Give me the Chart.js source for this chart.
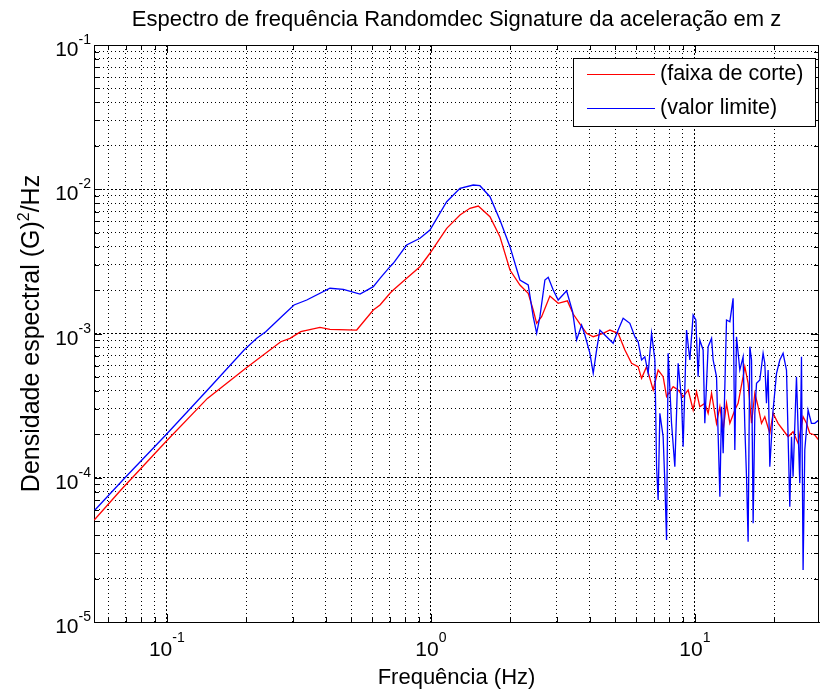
<!DOCTYPE html>
<html lang="pt">
<head>
    <meta charset="UTF-8">
    <title>Espectro de frequência Randomdec Signature</title>
    <script src="https://cdn.jsdelivr.net/npm/chart.js"></script>
    <style>
        body {
            margin: 0;
            background-color: #fff;
        }

        #wrap {
            width: 820px;
            height: 694px;
        }
    </style>
</head>
<body>

    <div id="wrap">
        <canvas id="espectro" width="820" height="694"></canvas>
    </div>

    <script>
        // Valores (frequência em Hz, densidade em G^2/Hz)
        const freqCorte = [0.0531, 0.0670, 0.0991, 0.1425, 0.1991, 0.2701, 0.2929, 0.3215, 0.3803, 0.4149,
            0.5238, 0.6053, 0.6418, 0.7002, 0.7206, 0.8097, 0.9094, 0.992, 1.148, 1.289,
            1.406, 1.512, 1.674, 1.826, 1.993, 2.174, 2.337, 2.441, 2.515, 2.627,
            2.823, 3.035, 3.289, 3.459, 3.667, 3.888, 4.119, 4.492, 4.763, 5.120,
            5.429, 5.754, 6.095, 6.279, 6.558, 6.947, 7.256, 7.579, 7.807, 8.271,
            8.638, 9.022, 9.426, 9.844, 10.14, 10.43, 10.90, 11.22, 11.56, 12.07,
            12.43, 12.79, 13.17, 13.56, 14.16, 14.57, 15.22, 15.45, 15.90, 16.38,
            16.86, 17.35, 17.87, 18.39, 19.21, 19.77, 20.65, 21.57, 22.53, 23.53,
            24.59, 25.68, 26.45, 27.22, 28.43, 29.44];
        const psdCorte = [5.09e-5, 8.23e-5, 1.778e-4, 3.55e-4, 5.74e-4, 8.77e-4, 9.26e-4, 1.029e-3, 1.104e-3, 1.069e-3,
            1.057e-3, 1.455e-3, 1.576e-3, 1.900e-3, 2.003e-3, 2.413e-3, 2.905e-3, 3.60e-3, 5.36e-3, 6.63e-3,
            7.38e-3, 7.65e-3, 6.45e-3, 4.69e-3, 2.755e-3, 2.169e-3, 1.900e-3, 1.455e-3, 1.177e-3, 1.308e-3,
            1.820e-3, 1.620e-3, 1.683e-3, 1.365e-3, 1.164e-3, 1.003e-3, 9.50e-4, 1.003e-3, 1.057e-3, 1.003e-3,
            7.69e-4, 6.22e-4, 5.89e-4, 4.89e-4, 5.89e-4, 4.06e-4, 5.58e-4, 5.02e-4, 3.65e-4, 4.28e-4,
            4.06e-4, 3.65e-4, 4.06e-4, 2.95e-4, 3.95e-4, 3.11e-4, 3.28e-4, 2.80e-4, 3.85e-4, 2.385e-4,
            3.11e-4, 2.143e-4, 3.28e-4, 2.385e-4, 2.95e-4, 3.28e-4, 5.02e-4, 5.89e-4, 4.52e-4, 2.385e-4,
            3.85e-4, 3.11e-4, 2.385e-4, 2.65e-4, 2.033e-4, 2.80e-4, 2.385e-4, 2.143e-4, 1.926e-4, 2.086e-4,
            1.733e-4, 2.65e-4, 2.385e-4, 2.033e-4, 1.979e-4, 1.827e-4];

        const freqLimite = [0.0531, 0.0700, 0.0991, 0.1446, 0.1962, 0.2191, 0.2369, 0.2763, 0.3033, 0.3388,
            0.4149, 0.4661, 0.5391, 0.6053, 0.6418, 0.7002, 0.7206, 0.8097, 0.9094, 0.992,
            1.148, 1.289, 1.447, 1.534, 1.674, 1.826, 1.993, 2.174, 2.337, 2.441,
            2.515, 2.588, 2.703, 2.782, 2.906, 3.035, 3.266, 3.441, 3.564, 3.722,
            3.831, 4.002, 4.119, 4.243, 4.365, 4.628, 4.902, 5.120, 5.348, 5.670,
            5.923, 6.095, 6.279, 6.462, 6.651, 6.851, 7.051, 7.157, 7.256, 7.364,
            7.579, 7.693, 7.807, 7.917, 8.154, 8.392, 8.638, 8.898, 9.022, 9.294,
            9.565, 9.844, 10.08, 10.28, 10.43, 10.74, 10.90, 11.22, 11.56, 11.72,
            12.07, 12.43, 12.61, 12.79, 13.17, 13.56, 13.95, 14.16, 14.37, 14.79,
            15.22, 15.45, 15.68, 15.90, 16.14, 16.38, 16.61, 16.86, 17.11, 17.61,
            18.12, 18.39, 18.66, 18.93, 19.21, 19.77, 20.37, 20.96, 21.57, 22.22,
            22.87, 23.21, 23.53, 24.24, 24.95, 25.32, 25.68, 26.06, 26.82, 27.62,
            28.43, 29.44];
        const psdLimite = [5.91e-5, 1.017e-4, 1.979e-4, 4.17e-4, 7.69e-4, 9.26e-4, 1.029e-3, 1.343e-3, 1.576e-3, 1.707e-3,
            2.058e-3, 2.025e-3, 1.878e-3, 2.111e-3, 2.413e-3, 2.905e-3, 3.067e-3, 4.107e-3, 4.571e-3, 5.22e-3,
            8.20e-3, 1.015e-2, 1.070e-2, 1.058e-2, 8.88e-3, 6.12e-3, 4.00e-3, 2.349e-3, 2.169e-3, 1.308e-3,
            1.003e-3, 1.308e-3, 2.349e-3, 2.453e-3, 2.003e-3, 1.707e-3, 1.980e-3, 1.416e-3, 9.01e-4, 1.145e-3,
            9.76e-4, 7.29e-4, 5.30e-4, 7.69e-4, 1.057e-3, 9.50e-4, 8.55e-4, 1.057e-3, 1.275e-3, 1.177e-3,
            9.50e-4, 8.77e-4, 6.55e-4, 6.90e-4, 5.30e-4, 1.003e-3, 6.55e-4, 1.193e-4, 7.01e-5, 2.80e-4,
            1.926e-4, 9.15e-5, 3.70e-5, 7.29e-4, 2.385e-4, 1.193e-4, 6.22e-4, 3.46e-4, 1.642e-4, 1.057e-3,
            6.55e-4, 1.343e-3, 1.240e-3, 5.02e-4, 9.01e-4, 7.69e-4, 2.385e-4, 8.10e-4, 9.26e-4, 6.55e-4,
            5.02e-4, 7.39e-5, 3.11e-4, 1.477e-4, 1.240e-3, 1.207e-3, 1.754e-3, 1.557e-4, 9.50e-4, 5.58e-4,
            6.90e-4, 2.259e-4, 1.017e-4, 3.60e-5, 8.10e-4, 6.55e-4, 4.83e-5, 2.80e-4, 4.52e-4, 4.76e-4,
            7.29e-4, 6.22e-4, 3.28e-4, 5.58e-4, 1.193e-4, 2.95e-4, 5.30e-4, 6.55e-4, 7.29e-4, 5.58e-4,
            6.30e-5, 1.926e-4, 1.017e-4, 5.02e-4, 9.15e-5, 6.90e-4, 2.29e-5, 1.557e-4, 2.95e-4, 2.385e-4,
            2.385e-4, 2.51e-4];

        // Décadas dos eixos e rótulos (10 elevado ao expoente)
        const xDecadas = [0.01, 0.1, 1, 10];
        const yDecadas = [1e-5, 1e-4, 1e-3, 1e-2, 1e-1];
        const xRotulos = [0.1, 1, 10];
        const xExpoentes = ['-1', '0', '1'];
        const yRotulos = [1e-5, 1e-4, 1e-3, 1e-2, 1e-1];
        const yExpoentes = ['-5', '-4', '-3', '-2', '-1'];

        const titulo = 'Espectro de frequência Randomdec Signature da aceleração em z';
        const tituloX = 'Frequência (Hz)';
        const tituloY = ['Densidade espectral (G)', '2', '/Hz'];
        const legendas = ['(faixa de corte)', '(valor limite)'];
        const cores = ['#ff0000', '#0000ff'];

        const fonte = '"Liberation Sans", Arial, sans-serif';

        // ticks em 1..9 x 10^n, como no MATLAB
        function ticksLog(scale, decadas) {
            const lista = [];
            decadas.forEach(d => {
                for (let m = 1; m <= 9; m++) {
                    const v = m * d;
                    if (v >= scale.min * 0.999 && v <= scale.max * 1.001) {
                        lista.push({ value: v, major: m === 1 });
                    }
                }
            });
            scale.ticks = lista;
        }

        const gridMatlab = {
            color: '#000',
            lineWidth: 1,
            drawTicks: false
        };
        const bordaMatlab = {
            color: '#000',
            width: 1,
            dash: (c) => (c.tick && c.tick.major) ? [2, 2] : [1, 3]
        };

        // Moldura, ticks internos, rótulos, títulos e legenda
        const molduraMatlab = {
            id: 'molduraMatlab',
            afterDraw(chart) {
                const { ctx, chartArea: a, scales: { x, y } } = chart;
                ctx.save();
                ctx.strokeStyle = '#000';
                ctx.lineWidth = 1;
                ctx.setLineDash([]);

                ctx.beginPath();
                ctx.moveTo(a.left, a.top + 0.5);
                ctx.lineTo(a.right, a.top + 0.5);
                ctx.moveTo(a.right - 0.5, a.top);
                ctx.lineTo(a.right - 0.5, a.bottom);

                x.ticks.forEach(t => {
                    const px = Math.round(x.getPixelForValue(t.value)) + 0.5;
                    const len = t.major ? 8 : 5;
                    ctx.moveTo(px, a.bottom);
                    ctx.lineTo(px, a.bottom - len);
                    ctx.moveTo(px, a.top);
                    ctx.lineTo(px, a.top + len);
                });
                y.ticks.forEach(t => {
                    const py = Math.round(y.getPixelForValue(t.value)) + 0.5;
                    const len = t.major ? 8 : 5;
                    ctx.moveTo(a.left, py);
                    ctx.lineTo(a.left + len, py);
                    ctx.moveTo(a.right, py);
                    ctx.lineTo(a.right - len, py);
                });
                ctx.stroke();

                ctx.fillStyle = '#000';
                const fBase = '21px ' + fonte;
                const fExp = '14px ' + fonte;

                // rótulos do eixo x
                xRotulos.forEach((v, i) => {
                    const px = x.getPixelForValue(v);
                    ctx.font = fBase;
                    const wb = ctx.measureText('10').width;
                    ctx.font = fExp;
                    const we = ctx.measureText(xExpoentes[i]).width;
                    const x0 = px - (wb + we) / 2;
                    ctx.textAlign = 'left';
                    ctx.textBaseline = 'alphabetic';
                    ctx.font = fBase;
                    ctx.fillText('10', x0, a.bottom + 34);
                    ctx.font = fExp;
                    ctx.fillText(xExpoentes[i], x0 + wb, a.bottom + 20);
                });

                // rótulos do eixo y
                yRotulos.forEach((v, i) => {
                    const py = y.getPixelForValue(v);
                    ctx.font = fExp;
                    const we = ctx.measureText(yExpoentes[i]).width;
                    const xe = a.left - 3 - we;
                    ctx.textAlign = 'left';
                    ctx.textBaseline = 'alphabetic';
                    ctx.fillText(yExpoentes[i], xe, py - 1);
                    ctx.font = fBase;
                    ctx.textAlign = 'right';
                    ctx.fillText('10', xe, py + 11);
                });

                // títulos
                const cx = (a.left + a.right) / 2;
                ctx.font = '22px ' + fonte;
                ctx.textAlign = 'center';
                ctx.textBaseline = 'alphabetic';
                ctx.fillText(titulo, cx, 26);
                ctx.fillText(tituloX, cx, 684);

                // título do eixo y com o expoente elevado
                const fY = '25px ' + fonte;
                const fYExp = '16px ' + fonte;
                ctx.font = fY;
                const w0 = ctx.measureText(tituloY[0]).width;
                const w2 = ctx.measureText(tituloY[2]).width;
                ctx.font = fYExp;
                const w1 = ctx.measureText(tituloY[1]).width;
                ctx.save();
                ctx.translate(39, (a.top + a.bottom) / 2);
                ctx.rotate(-Math.PI / 2);
                ctx.textAlign = 'left';
                ctx.textBaseline = 'alphabetic';
                let xt = -(w0 + w1 + w2) / 2;
                ctx.font = fY;
                ctx.fillText(tituloY[0], xt, 0);
                xt += w0;
                ctx.font = fYExp;
                ctx.fillText(tituloY[1], xt, -10);
                xt += w1;
                ctx.font = fY;
                ctx.fillText(tituloY[2], xt, 0);
                ctx.restore();

                // legenda
                const lx = 573.5, ly = 58.5, lw = 242, lh = 68;
                ctx.fillStyle = '#fff';
                ctx.fillRect(lx, ly, lw, lh);
                ctx.strokeStyle = '#000';
                ctx.strokeRect(lx, ly, lw, lh);
                legendas.forEach((txt, i) => {
                    const yy = 74 + i * 34;
                    ctx.strokeStyle = cores[i];
                    ctx.lineWidth = 1.2;
                    ctx.beginPath();
                    ctx.moveTo(587, yy + 0.5);
                    ctx.lineTo(655, yy + 0.5);
                    ctx.stroke();
                    ctx.fillStyle = '#000';
                    ctx.font = '21.5px ' + fonte;
                    ctx.textAlign = 'left';
                    ctx.textBaseline = 'middle';
                    ctx.fillText(txt, 660, yy);
                });

                ctx.restore();
            }
        };

        const ctx = document.getElementById('espectro').getContext('2d');
        const grafico = new Chart(ctx, {
            type: 'line',
            data: {
                datasets: [{
                    label: legendas[0],
                    data: freqCorte.map((f, i) => ({ x: f, y: psdCorte[i] })),
                    borderColor: cores[0],
                    borderWidth: 1.3,
                    pointRadius: 0,
                    tension: 0,
                    order: 1
                }, {
                    label: legendas[1],
                    data: freqLimite.map((f, i) => ({ x: f, y: psdLimite[i] })),
                    borderColor: cores[1],
                    borderWidth: 1.3,
                    pointRadius: 0,
                    tension: 0,
                    order: 0
                }]
            },
            options: {
                responsive: false,
                animation: false,
                events: [],
                layout: {
                    padding: { top: 45, right: 1, left: 0, bottom: 0 }
                },
                plugins: {
                    legend: { display: false },
                    tooltip: { enabled: false }
                },
                scales: {
                    x: {
                        type: 'logarithmic',
                        min: 0.053,
                        max: 29.5,
                        grid: gridMatlab,
                        border: bordaMatlab,
                        ticks: { display: false },
                        afterBuildTicks: (s) => ticksLog(s, xDecadas),
                        afterFit: (s) => { s.height = 72; }
                    },
                    y: {
                        type: 'logarithmic',
                        min: 1e-5,
                        max: 1e-1,
                        grid: gridMatlab,
                        border: bordaMatlab,
                        ticks: { display: false },
                        afterBuildTicks: (s) => ticksLog(s, yDecadas),
                        afterFit: (s) => { s.width = 94; }
                    }
                }
            },
            plugins: [molduraMatlab]
        });
    </script>

</body>
</html>
